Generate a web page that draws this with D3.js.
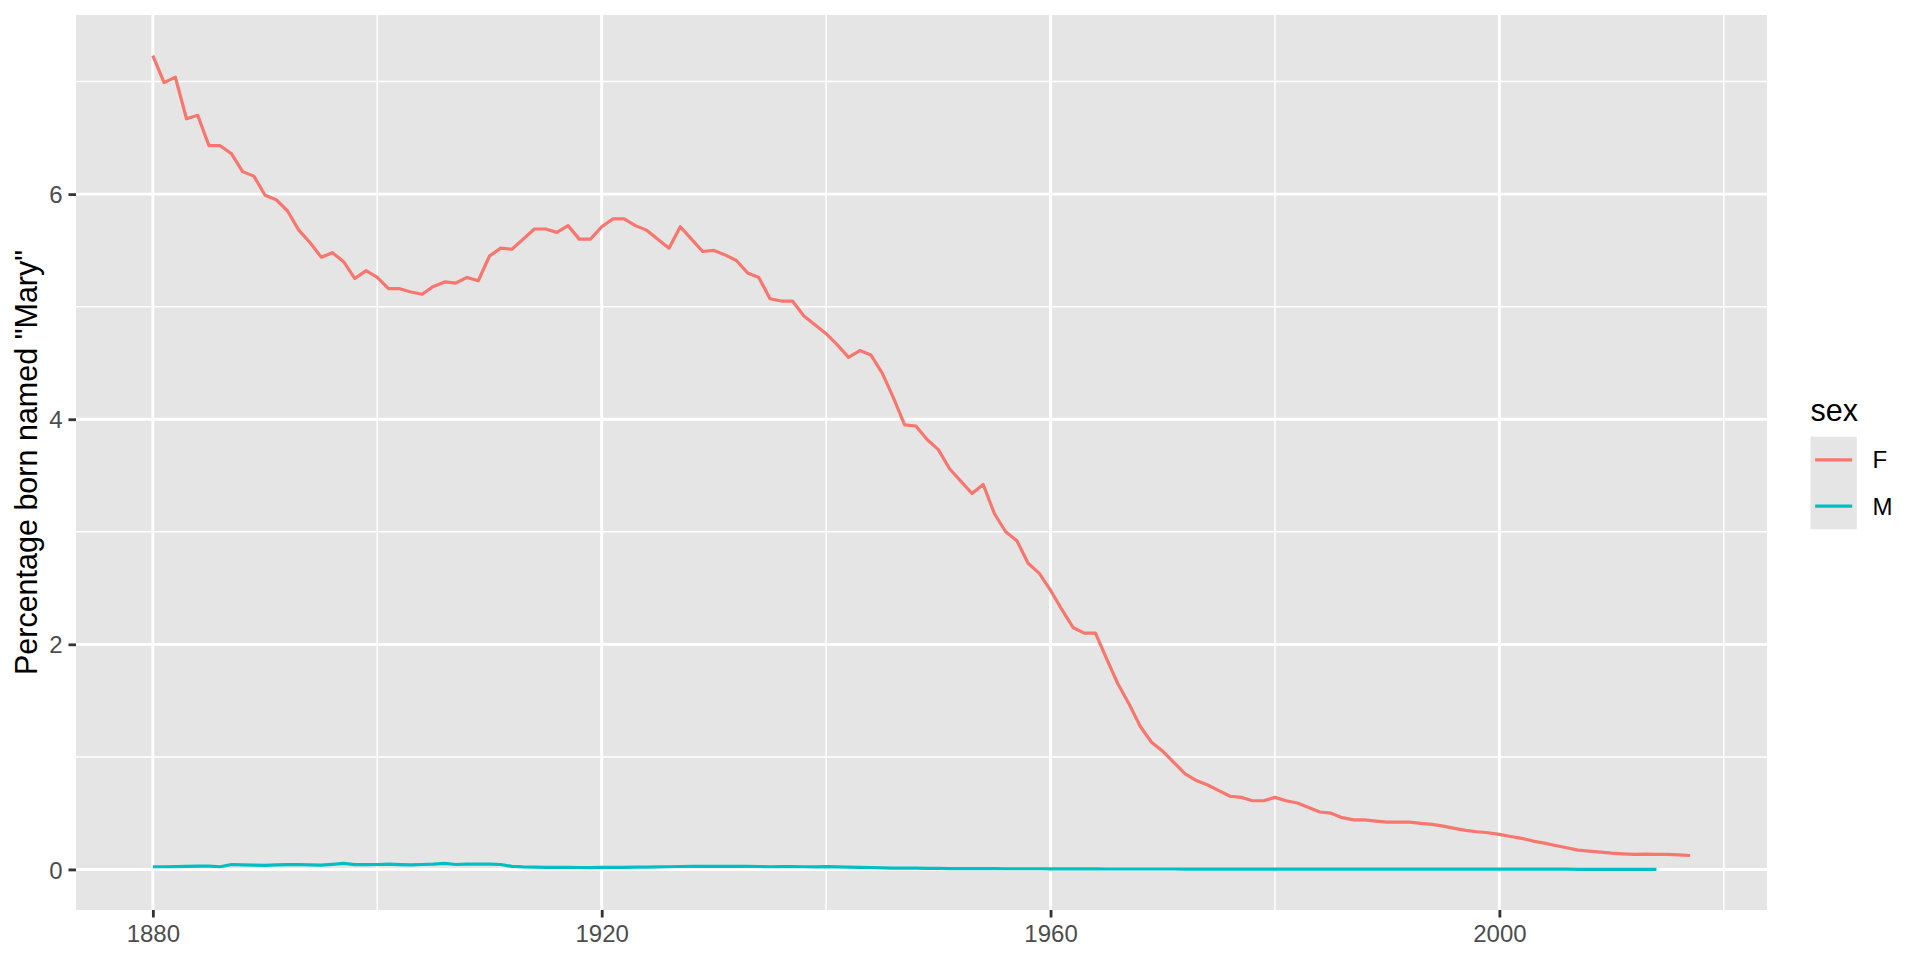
<!DOCTYPE html>
<html>
<head>
<meta charset="utf-8">
<script src="https://cdn.jsdelivr.net/npm/d3@7"></script>
<style>
  html, body { margin: 0; padding: 0; background: #fff; }
  svg { display: block; font-family: "Liberation Sans", Arial, sans-serif; }
</style>
</head>
<body>
<svg id="chart" width="1920" height="960"></svg>
<script>
// Share of babies named "Mary", by sex
var FIRST_YEAR = 1880;

var female = [
  7.23, 6.99, 7.04, 6.67, 6.70, 6.43, 6.43, 6.36, 6.20, 6.16,
  5.99, 5.95, 5.85, 5.68, 5.57, 5.44, 5.48, 5.40, 5.25, 5.32,
  5.26, 5.16, 5.16, 5.13, 5.11, 5.18, 5.22, 5.21, 5.26, 5.23,
  5.45, 5.52, 5.51, 5.60, 5.69, 5.69, 5.66, 5.72, 5.60, 5.60,
  5.71, 5.78, 5.78, 5.72, 5.68, 5.60, 5.52, 5.71, 5.60, 5.49,
  5.50, 5.46, 5.41, 5.30, 5.26, 5.07, 5.05, 5.05, 4.92, 4.84,
  4.76, 4.66, 4.55, 4.61, 4.57, 4.41, 4.19, 3.95, 3.94, 3.82,
  3.73, 3.56, 3.45, 3.34, 3.42, 3.16, 3.00, 2.92, 2.72, 2.63,
  2.48, 2.31, 2.15, 2.10, 2.10, 1.87, 1.65, 1.47, 1.27, 1.13,
  1.05, 0.95, 0.85, 0.79, 0.75, 0.70, 0.65, 0.64, 0.61, 0.61,
  0.64, 0.61, 0.59, 0.55, 0.51, 0.50, 0.46, 0.44, 0.44, 0.43,
  0.42, 0.42, 0.42, 0.41, 0.40, 0.385, 0.365, 0.347, 0.335, 0.326,
  0.311, 0.293, 0.276, 0.252, 0.234, 0.213, 0.193, 0.172, 0.163, 0.154,
  0.145, 0.139, 0.133, 0.136, 0.133, 0.133, 0.130, 0.124
];

var male = [
  0.024, 0.024, 0.025, 0.027, 0.030, 0.030, 0.024, 0.044, 0.041, 0.038,
  0.036, 0.040, 0.042, 0.044, 0.041, 0.038, 0.045, 0.053, 0.042, 0.043,
  0.044, 0.047, 0.043, 0.041, 0.044, 0.047, 0.053, 0.044, 0.047, 0.047,
  0.047, 0.044, 0.027, 0.022, 0.020, 0.019, 0.018, 0.018, 0.017, 0.016,
  0.018, 0.019, 0.018, 0.020, 0.021, 0.023, 0.024, 0.026, 0.027, 0.028,
  0.028, 0.028, 0.028, 0.028, 0.026, 0.024, 0.025, 0.025, 0.024, 0.023,
  0.025, 0.022, 0.020, 0.019, 0.017, 0.014, 0.012, 0.011, 0.011, 0.010,
  0.010, 0.008, 0.008, 0.007, 0.007, 0.007, 0.006, 0.006, 0.006, 0.006,
  0.005, 0.005, 0.005, 0.005, 0.005, 0.004, 0.004, 0.004, 0.004, 0.004,
  0.004, 0.004, 0.003, 0.003, 0.003, 0.003, 0.003, 0.003, 0.003, 0.003,
  0.003, 0.003, 0.003, 0.003, 0.002, 0.002, 0.002, 0.002, 0.002, 0.002,
  0.002, 0.002, 0.002, 0.002, 0.002, 0.002, 0.002, 0.002, 0.002, 0.002,
  0.002, 0.002, 0.002, 0.002, 0.002, 0.002, 0.002, 0.001, 0.001, 0.001,
  0.001, 0.001, 0.001, 0.001, 0.001
];

var sexes = ['F', 'M'];
var sexColors = ['#F8766D', '#00BFC4'];
var xTicks = [1880, 1920, 1960, 2000];
var xMinor = [1900, 1940, 1980, 2020];
var yTicks = [0, 2, 4, 6];
var yMinor = [1, 3, 5, 7];
var yTitle = 'Percentage born named "Mary"';
var legendTitle = 'sex';

var PANEL = {left: 76, right: 1767, top: 15, bottom: 910};
var PANEL_BG = '#E5E5E5';

function toPoints(values) {
  return values.map(function(v, i) {
    return {year: FIRST_YEAR + i, value: v};
  });
}

// ggplot-style 5% padding on a continuous range
function padded(extent) {
  var pad = (extent[1] - extent[0]) * 0.05;
  return [extent[0] - pad, extent[1] + pad];
}

function drawChart() {
  var series = [toPoints(female), toPoints(male)];
  var all = series[0].concat(series[1]);

  var x = d3.scaleLinear()
    .domain(padded(d3.extent(all, function(d) { return d.year; })))
    .range([PANEL.left, PANEL.right]);

  var y = d3.scaleLinear()
    .domain(padded(d3.extent(all, function(d) { return d.value; })))
    .range([PANEL.bottom, PANEL.top]);

  var svg = d3.select('#chart');

  svg.append('rect')
    .attr('x', PANEL.left)
    .attr('y', PANEL.top)
    .attr('width', PANEL.right - PANEL.left)
    .attr('height', PANEL.bottom - PANEL.top)
    .attr('fill', PANEL_BG);

  var grid = svg.append('g');

  // minor grid first, majors on top
  grid.selectAll('.ymin').data(yMinor).enter().append('line')
    .attr('x1', PANEL.left).attr('x2', PANEL.right)
    .attr('y1', y).attr('y2', y)
    .attr('stroke', '#fff').attr('stroke-width', 1.5);
  grid.selectAll('.xmin').data(xMinor).enter().append('line')
    .attr('x1', x).attr('x2', x)
    .attr('y1', PANEL.top).attr('y2', PANEL.bottom)
    .attr('stroke', '#fff').attr('stroke-width', 1.5);
  grid.selectAll('.ymaj').data(yTicks).enter().append('line')
    .attr('x1', PANEL.left).attr('x2', PANEL.right)
    .attr('y1', y).attr('y2', y)
    .attr('stroke', '#fff').attr('stroke-width', 2.9);
  grid.selectAll('.xmaj').data(xTicks).enter().append('line')
    .attr('x1', x).attr('x2', x)
    .attr('y1', PANEL.top).attr('y2', PANEL.bottom)
    .attr('stroke', '#fff').attr('stroke-width', 2.9);

  var line = d3.line()
    .x(function(d) { return x(d.year); })
    .y(function(d) { return y(d.value); });

  svg.append('g').selectAll('path')
    .data(series)
    .enter().append('path')
    .attr('d', line)
    .attr('fill', 'none')
    .attr('stroke', function(d, i) { return sexColors[i]; })
    .attr('stroke-width', 3.2)
    .attr('stroke-linejoin', 'round');

  // axes
  var xAxis = d3.axisBottom(x).tickValues(xTicks).tickFormat(d3.format('d'))
    .tickSize(7.5).tickPadding(6);
  var yAxis = d3.axisLeft(y).tickValues(yTicks).tickFormat(d3.format('d'))
    .tickSize(7.5).tickPadding(6);

  var gx = svg.append('g')
    .attr('transform', 'translate(0,' + PANEL.bottom + ')')
    .call(xAxis);
  var gy = svg.append('g')
    .attr('transform', 'translate(' + PANEL.left + ',0)')
    .call(yAxis);

  [gx, gy].forEach(function(g) {
    g.select('.domain').remove();
    g.selectAll('.tick line').attr('stroke', '#333333').attr('stroke-width', 2.8);
    g.selectAll('.tick text')
      .attr('fill', '#4D4D4D')
      .style('font-size', '24px')
      .style('font-family', '"Liberation Sans", Arial, sans-serif');
  });
  gx.selectAll('.tick text').attr('dy', '0.76em');
  gy.selectAll('.tick text').attr('dy', '0.36em');

  svg.append('text')
    .attr('transform', 'translate(36.5,' + ((PANEL.top + PANEL.bottom) / 2) + ') rotate(-90)')
    .attr('text-anchor', 'middle')
    .attr('fill', '#000')
    .style('font-size', '30.5px')
    .text(yTitle);

  // legend
  var legend = svg.append('g').attr('transform', 'translate(1810.5,0)');
  legend.append('text')
    .attr('x', 0).attr('y', 420.5)
    .attr('fill', '#000')
    .style('font-size', '30.5px')
    .text(legendTitle);

  var keySize = 46.3;
  var keys = legend.selectAll('.key')
    .data(sexes)
    .enter().append('g')
    .attr('transform', function(d, i) { return 'translate(0,' + (436.7 + i * keySize) + ')'; });

  keys.append('rect')
    .attr('width', keySize).attr('height', keySize)
    .attr('fill', PANEL_BG);
  keys.append('line')
    .attr('x1', keySize * 0.1).attr('x2', keySize * 0.9)
    .attr('y1', keySize / 2).attr('y2', keySize / 2)
    .attr('stroke', function(d, i) { return sexColors[i]; })
    .attr('stroke-width', 3.2);
  keys.append('text')
    .attr('x', 62).attr('y', keySize / 2)
    .attr('dy', '0.36em')
    .attr('fill', '#000')
    .style('font-size', '24px')
    .text(function(d) { return d; });
}

drawChart();
</script>
</body>
</html>
